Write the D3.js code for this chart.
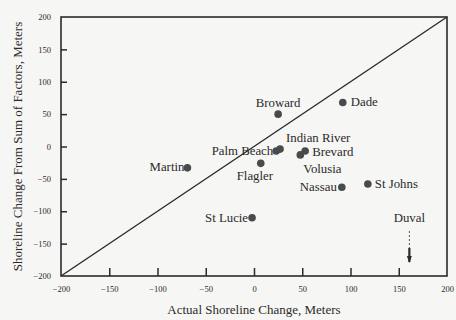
<!DOCTYPE html>
<html><head><meta charset="utf-8">
<script src="https://cdn.jsdelivr.net/npm/d3@7"></script>
<style>body{margin:0;background:#f6f6f4;}svg{display:block;}</style>
</head><body>
<script>
// Data
const counties = ["Broward","Dade","Palm Beach","Indian River","Brevard","Volusia","Flagler","Nassau","St Johns","Martin","St Lucie"];
const actual   = [25, 92, 23, 27, 53, 48, 7, 91, 118, -69, -2];
const predicted= [50, 68, -7, -4, -7, -13, -26, -63, -58, -33, -110];
const offChart = {name:"Duval", actual:161};
const ticks = [-200,-150,-100,-50,0,50,100,150,200];

// label placement (style only)
const labelPos = {
  "Broward":["middle",0,-7],
  "Dade":["start",8,4],
  "Palm Beach":["end",-3,4],
  "Indian River":["start",6,-7.5],
  "Brevard":["start",7,5],
  "Volusia":["start",3,18],
  "Flagler":["start",-24,17],
  "Nassau":["end",-5,4],
  "St Johns":["start",7,4],
  "Martin":["end",-3,3],
  "St Lucie":["end",-4,4]
};

const W=456,H=320;
const m={l:61,r:9,t:17,b:44};
const svg=d3.select("body").append("svg").attr("width",W).attr("height",H);
const x=d3.scaleLinear().domain([-200,200]).range([m.l,W-m.r]);
const y=d3.scaleLinear().domain([-200,200]).range([H-m.b,m.t]);
const ink="#2b2b2b";
const font="'Liberation Serif','Times New Roman',serif";

// frame
svg.append("rect").attr("x",x(-200)).attr("y",y(200)).attr("width",x(200)-x(-200)).attr("height",y(-200)-y(200))
  .attr("fill","none").attr("stroke",ink).attr("stroke-width",1.6);

// axes
const xa=svg.append("g").attr("transform",`translate(0,${y(-200)})`)
  .call(d3.axisBottom(x).tickValues(ticks).tickSize(-8).tickPadding(10).tickFormat(d3.format("d")));
const ya=svg.append("g").attr("transform",`translate(${x(-200)},0)`)
  .call(d3.axisLeft(y).tickValues(ticks).tickSize(-6).tickPadding(10).tickFormat(d3.format("d")));
[xa,ya].forEach(g=>{
  g.attr("color",ink);
  g.select(".domain").remove();
  g.selectAll(".tick line").attr("stroke",ink).attr("stroke-width",1.5);
  g.selectAll(".tick text").attr("font-family",font).attr("font-size",8.5).attr("fill",ink);
});
xa.selectAll(".tick").filter(d=>d===-200||d===200).select("line").remove();
ya.selectAll(".tick").filter(d=>d===-200||d===200).select("line").remove();

// diagonal
svg.append("line").attr("x1",x(-200)).attr("y1",y(-200)).attr("x2",x(200)).attr("y2",y(200))
  .attr("stroke",ink).attr("stroke-width",1.4);

// points
const pts=counties.map((c,i)=>({c,a:actual[i],p:predicted[i]}));
svg.selectAll("circle.pt").data(pts).enter().append("circle")
  .attr("cx",d=>x(d.a)).attr("cy",d=>y(d.p)).attr("r",3.8).attr("fill","#4a4a4a");
svg.selectAll("text.lbl").data(pts).enter().append("text")
  .attr("x",d=>x(d.a)+labelPos[d.c][1]).attr("y",d=>y(d.p)+labelPos[d.c][2])
  .attr("text-anchor",d=>labelPos[d.c][0])
  .attr("font-family",font).attr("font-size",12.8).attr("fill",ink).text(d=>d.c);

// Duval off-chart arrow
const dx=x(offChart.actual);
svg.append("text").attr("x",dx).attr("y",222).attr("text-anchor","middle")
  .attr("font-family",font).attr("font-size",12.8).attr("fill",ink).text(offChart.name);
svg.append("line").attr("x1",dx).attr("x2",dx).attr("y1",231).attr("y2",248)
  .attr("stroke",ink).attr("stroke-width",0.8).attr("stroke-dasharray","2,2");
svg.append("line").attr("x1",dx).attr("x2",dx).attr("y1",248).attr("y2",262)
  .attr("stroke",ink).attr("stroke-width",2.2);
svg.append("path").attr("d",`M${dx-2.5},256 L${dx+2.5},256 L${dx},263 Z`).attr("fill",ink);

// axis titles
svg.append("text").attr("x",(x(-200)+x(200))/2).attr("y",H-6).attr("text-anchor","middle")
  .attr("font-family",font).attr("font-size",13).attr("fill",ink).text("Actual Shoreline Change, Meters");
svg.append("text").attr("transform",`translate(22,${(y(200)+y(-200))/2}) rotate(-90)`).attr("text-anchor","middle")
  .attr("font-family",font).attr("font-size",13).attr("fill",ink).text("Shoreline Change From Sum of Factors, Meters");
</script>
</body></html>
